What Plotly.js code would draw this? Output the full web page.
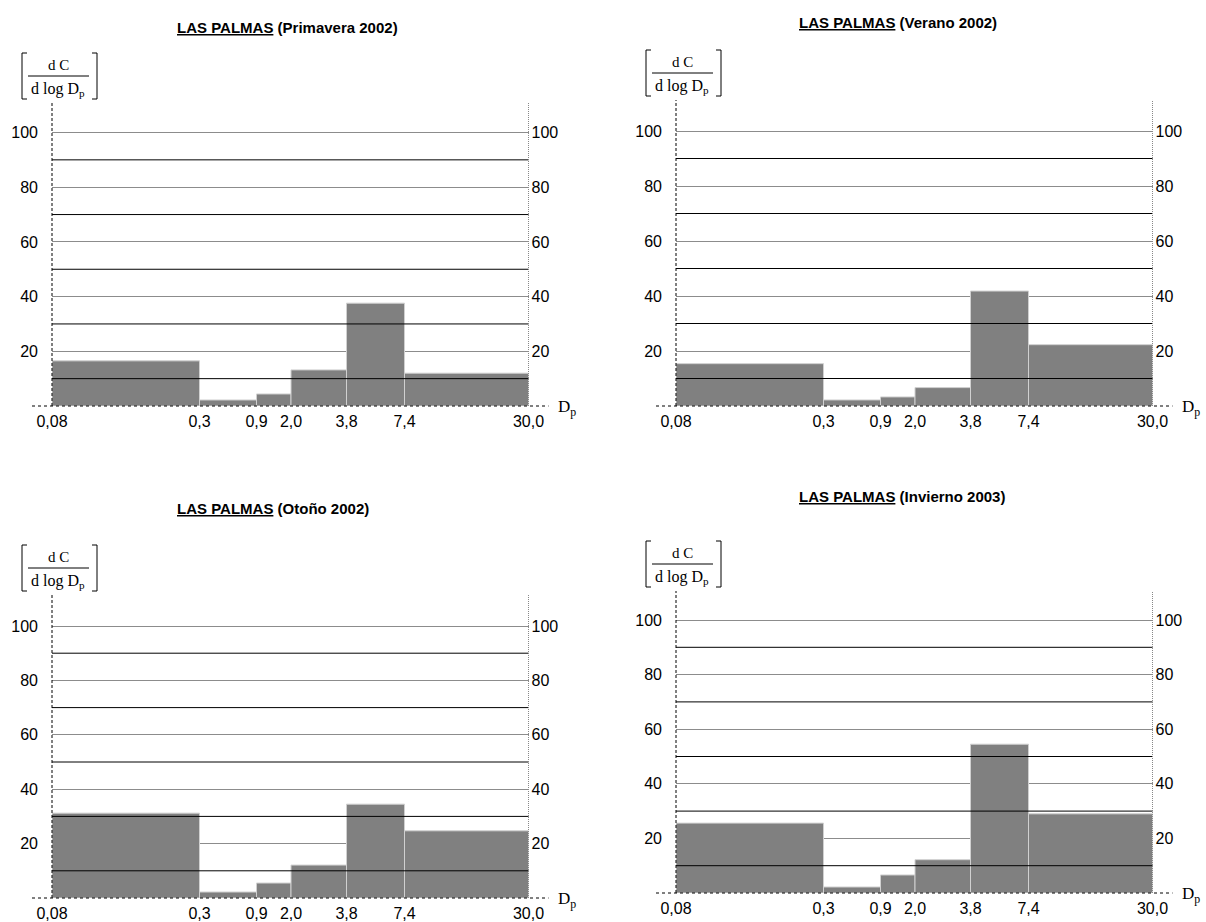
<!DOCTYPE html>
<html><head><meta charset="utf-8">
<script src="https://cdn.plot.ly/plotly-3.0.1.min.js"></script>
<style>html,body{margin:0;padding:0;background:#fff}</style>
</head><body><div id="chart" style="width:1206px;height:922px"></div>
<script>
// ---- data ----
const sizeLabels = ['0,08','0,3','0,9','2,0','3,8','7,4','30,0'];
// where each size boundary sits along the drawn (non-proportional) size axis
const edgeAxisPos = [0, 147.5, 204.5, 239, 294.5, 352.5, 476.5];
const seasonTitles = ['Primavera 2002','Verano 2002','Otoño 2002','Invierno 2003'];
const primavera = [16.5, 2.2, 4.4, 13.2, 37.6, 12.0];
const verano    = [15.4, 2.2, 3.3, 6.7, 41.8, 22.3];
const otono     = [31.2, 2.2, 5.5, 12.1, 34.5, 24.7];
const invierno  = [25.6, 2.2, 6.6, 12.2, 54.5, 29.0];
const yTicks = [20, 40, 60, 80, 100];
const darkLines = [10, 30, 50, 70, 90];

// ---- layout ----
const W = 1206, H = 922;
// l: plot left edge, b: value 0, h100: value 100, t: top of the axes, tx/ty: title position
const panels = [
  {vals: primavera, l: 52,  b: 406, h100: 132.5, t: 103, tx: 175, ty: 27},
  {vals: verano,    l: 676, b: 406, h100: 131,   t: 100, tx: 797, ty: 22},
  {vals: otono,     l: 52,  b: 898, h100: 626,   t: 595, tx: 175, ty: 509},
  {vals: invierno,  l: 676, b: 893, h100: 620,   t: 591, tx: 797, ty: 496}
];
const PLOTW = 476.5;
const px = x => x / W, py = y => 1 - y / H;

const mids = [], widths = [];
for (let i = 0; i < edgeAxisPos.length - 1; i++) {
  mids.push((edgeAxisPos[i] + edgeAxisPos[i+1]) / 2);
  widths.push(edgeAxisPos[i+1] - edgeAxisPos[i]);
}

const data = [], shapes = [], annotations = [];
const layout = {
  width: W, height: H, margin: {l:0, r:0, t:0, b:0},
  paper_bgcolor: '#fff', plot_bgcolor: 'rgba(0,0,0,0)',
  showlegend: false, font: {family: 'Arial, Liberation Sans, sans-serif', size: 16, color: '#000'}
};
const tickFont = {family: 'Arial, Liberation Sans, sans-serif', size: 16, color: '#000'};
const serif = 'Times New Roman, Liberation Serif, serif';

panels.forEach((p, k) => {
  const n = k + 1, xn = 'x' + n, yn = 'y' + n, yr = 'y' + (n + 4);
  const xk = n === 1 ? 'xaxis' : 'xaxis' + n;
  const yk = n === 1 ? 'yaxis' : 'yaxis' + n;
  const yrk = 'yaxis' + (n + 4);
  const r = p.l + PLOTW;
  const ymax = 100 * (p.b - p.t) / (p.b - p.h100);
  data.push({
    type: 'bar', x: mids, y: p.vals, width: widths, base: 0,
    xaxis: xn, yaxis: yn, hoverinfo: 'skip',
    marker: {color: '#808080', line: {color: '#d0d0d0', width: 1}}
  });
  data.push({type: 'scatter', x: [null], y: [null], xaxis: xn, yaxis: yr, hoverinfo: 'skip'});
  layout[xk] = {
    domain: [px(p.l), px(r)], anchor: yn, range: [0, PLOTW],
    tickvals: edgeAxisPos, ticktext: sizeLabels, tickfont: tickFont,
    showgrid: false, zeroline: false, showline: false, ticks: '', ticklabelstandoff: 4,
    fixedrange: true
  };
  layout[yk] = {
    domain: [py(p.b), py(p.t)], anchor: xn, range: [0, ymax],
    tickvals: yTicks, tickfont: tickFont, showgrid: true, gridcolor: '#8c8c8c', gridwidth: 1,
    zeroline: false, showline: false, ticks: '', ticklabelstandoff: 13, fixedrange: true
  };
  layout[yrk] = {
    overlaying: yn, anchor: xn, side: 'right', range: [0, ymax],
    tickvals: yTicks, tickfont: tickFont, showgrid: false, zeroline: false,
    showline: false, ticks: '', ticklabelstandoff: 2, fixedrange: true
  };
  darkLines.forEach(v => shapes.push({
    type: 'line', xref: xn + ' domain', yref: yn, x0: 0, x1: 1, y0: v, y1: v,
    layer: 'above', line: {color: '#000', width: 1}
  }));
  shapes.push({type: 'line', xref: 'paper', yref: 'paper', x0: px(p.l), x1: px(p.l), y0: py(p.b), y1: py(p.t),
    line: {color: '#000', width: 1, dash: '3px,2px'}});
  shapes.push({type: 'line', xref: 'paper', yref: 'paper', x0: px(r), x1: px(r), y0: py(p.b), y1: py(p.t),
    line: {color: '#888', width: 1, dash: '1px,1px'}});
  shapes.push({type: 'line', xref: 'paper', yref: 'paper', x0: px(p.l - 20), x1: px(r + 20), y0: py(p.b), y1: py(p.b),
    layer: 'above', line: {color: '#000', width: 1, dash: '3px,3px'}});
  annotations.push({xref: 'paper', yref: 'paper', x: px(r + 27), y: py(p.b + 2), xanchor: 'left', yanchor: 'middle',
    text: 'D<sub>p</sub>', showarrow: false, font: {family: serif, size: 17, color: '#000'}});
  annotations.push({xref: 'paper', yref: 'paper', x: px(p.tx), y: py(p.ty), xanchor: 'left', yanchor: 'middle',
    text: '<b><u>LAS PALMAS</u> (' + seasonTitles[k] + ')</b>', showarrow: false,
    font: {family: 'Arial, Liberation Sans, sans-serif', size: 15, color: '#000'}});
  const cx = p.l + 6;
  annotations.push({xref: 'paper', yref: 'paper', x: px(cx), y: py(p.t - 38), xanchor: 'center', yanchor: 'middle',
    text: 'd C', showarrow: false, font: {family: serif, size: 15, color: '#000'}});
  annotations.push({xref: 'paper', yref: 'paper', x: px(cx), y: py(p.t - 14), xanchor: 'center', yanchor: 'middle',
    text: 'd log D<sub>p</sub>', showarrow: false, font: {family: serif, size: 16, color: '#000'}});
  shapes.push({type: 'line', xref: 'paper', yref: 'paper', x0: px(p.l - 24), x1: px(p.l + 37), y0: py(p.t - 27), y1: py(p.t - 27),
    line: {color: '#000', width: 1}});
  const bl = p.l - 30, br = p.l + 45, bt = p.t - 50, bb = p.t - 4;
  shapes.push({type: 'path', xref: 'paper', yref: 'paper',
    path: `M${px(bl+5)},${py(bt)} L${px(bl)},${py(bt)} L${px(bl)},${py(bb)} L${px(bl+5)},${py(bb)}`,
    line: {color: '#000', width: 1}});
  shapes.push({type: 'path', xref: 'paper', yref: 'paper',
    path: `M${px(br-5)},${py(bt)} L${px(br)},${py(bt)} L${px(br)},${py(bb)} L${px(br-5)},${py(bb)}`,
    line: {color: '#000', width: 1}});
});
layout.shapes = shapes;
layout.annotations = annotations;
Plotly.newPlot('chart', data, layout, {displayModeBar: false, staticPlot: true});
</script>
</body></html>
